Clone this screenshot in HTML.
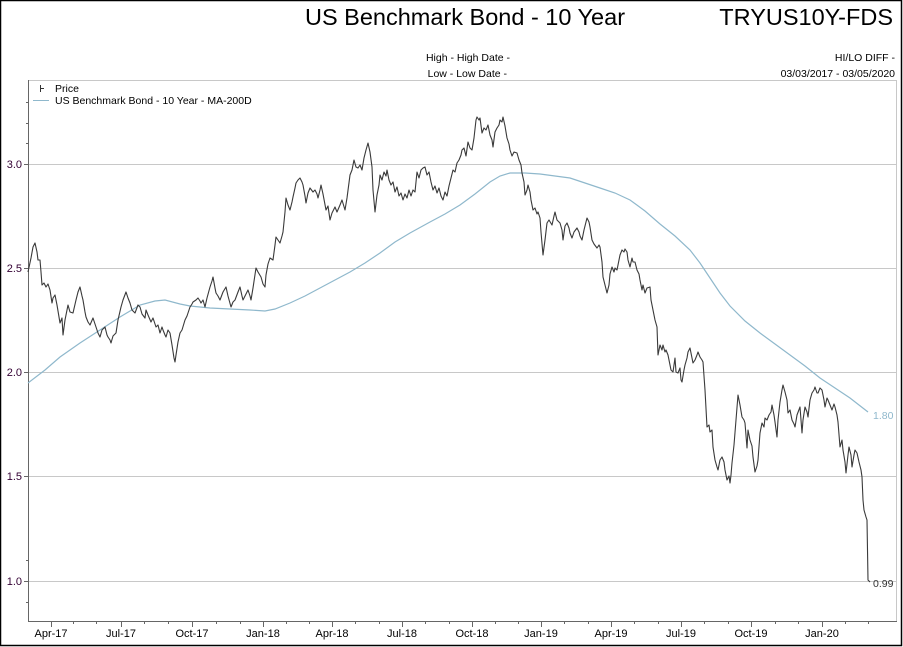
<!DOCTYPE html>
<html><head><meta charset="utf-8"><style>
html,body{margin:0;padding:0;background:#fff}
svg{display:block;font-family:"Liberation Sans",sans-serif}
</style></head><body>
<svg width="903" height="647" viewBox="0 0 903 647" xmlns="http://www.w3.org/2000/svg">
<rect x="0.5" y="0.5" width="901" height="645" fill="#fff" stroke="#000" stroke-width="1.5"/>
<text x="465" y="25" font-size="23.5" text-anchor="middle" fill="#000">US Benchmark Bond - 10 Year</text>
<text x="893" y="25" font-size="23.5" text-anchor="end" fill="#000">TRYUS10Y-FDS</text>
<text x="510" y="61" font-size="10.5" text-anchor="end" fill="#000">High - High Date -</text>
<text x="507" y="77" font-size="10.5" text-anchor="end" fill="#000">Low - Low Date -</text>
<text x="895" y="61" font-size="10.5" text-anchor="end" fill="#000">HI/LO DIFF -</text>
<text x="895" y="77" font-size="10.5" text-anchor="end" fill="#000">03/03/2017 - 03/05/2020</text>
<line x1="28" y1="80.5" x2="897" y2="80.5" stroke="#c8c8c8"/>
<line x1="896.5" y1="80" x2="896.5" y2="621" stroke="#c8c8c8"/>
<g stroke="#c8c8c8">
<line x1="28" y1="164.5" x2="897" y2="164.5"/>
<line x1="28" y1="268.5" x2="897" y2="268.5"/>
<line x1="28" y1="372.5" x2="897" y2="372.5"/>
<line x1="28" y1="476.5" x2="897" y2="476.5"/>
<line x1="28" y1="581.5" x2="897" y2="581.5"/>
</g>
<line x1="28.5" y1="80" x2="28.5" y2="622" stroke="#666"/>
<line x1="28" y1="621.5" x2="897" y2="621.5" stroke="#666"/>
<g stroke="#666">
<line x1="24" y1="164.5" x2="28" y2="164.5"/><line x1="24" y1="268.5" x2="28" y2="268.5"/><line x1="24" y1="372.5" x2="28" y2="372.5"/><line x1="24" y1="476.5" x2="28" y2="476.5"/><line x1="24" y1="581.5" x2="28" y2="581.5"/>
<line x1="26" y1="102.5" x2="28" y2="102.5"/><line x1="26" y1="123.5" x2="28" y2="123.5"/><line x1="26" y1="143.5" x2="28" y2="143.5"/>
<line x1="26" y1="560.5" x2="28" y2="560.5"/><line x1="26" y1="602.5" x2="28" y2="602.5"/>
</g>
<g stroke="#666">
<line x1="51.5" y1="621" x2="51.5" y2="627"/><line x1="121.5" y1="621" x2="121.5" y2="627"/><line x1="192.5" y1="621" x2="192.5" y2="627"/><line x1="263.5" y1="621" x2="263.5" y2="627"/><line x1="332.5" y1="621" x2="332.5" y2="627"/><line x1="402.5" y1="621" x2="402.5" y2="627"/><line x1="472.5" y1="621" x2="472.5" y2="627"/><line x1="541.5" y1="621" x2="541.5" y2="627"/><line x1="611.5" y1="621" x2="611.5" y2="627"/><line x1="681.5" y1="621" x2="681.5" y2="627"/><line x1="751.5" y1="621" x2="751.5" y2="627"/><line x1="822.5" y1="621" x2="822.5" y2="627"/>
<line x1="73.5" y1="621" x2="73.5" y2="624"/><line x1="96.5" y1="621" x2="96.5" y2="624"/><line x1="144.5" y1="621" x2="144.5" y2="624"/><line x1="168.5" y1="621" x2="168.5" y2="624"/><line x1="216.5" y1="621" x2="216.5" y2="624"/><line x1="240.5" y1="621" x2="240.5" y2="624"/><line x1="286.5" y1="621" x2="286.5" y2="624"/><line x1="309.5" y1="621" x2="309.5" y2="624"/><line x1="355.5" y1="621" x2="355.5" y2="624"/><line x1="379.5" y1="621" x2="379.5" y2="624"/><line x1="425.5" y1="621" x2="425.5" y2="624"/><line x1="449.5" y1="621" x2="449.5" y2="624"/><line x1="495.5" y1="621" x2="495.5" y2="624"/><line x1="518.5" y1="621" x2="518.5" y2="624"/><line x1="564.5" y1="621" x2="564.5" y2="624"/><line x1="588.5" y1="621" x2="588.5" y2="624"/><line x1="634.5" y1="621" x2="634.5" y2="624"/><line x1="658.5" y1="621" x2="658.5" y2="624"/><line x1="704.5" y1="621" x2="704.5" y2="624"/><line x1="728.5" y1="621" x2="728.5" y2="624"/><line x1="775.5" y1="621" x2="775.5" y2="624"/><line x1="798.5" y1="621" x2="798.5" y2="624"/><line x1="845.5" y1="621" x2="845.5" y2="624"/><line x1="868.5" y1="621" x2="868.5" y2="624"/>
</g>
<g font-size="11" fill="#330033" text-anchor="end">
<text x="22" y="168">3.0</text><text x="22" y="272">2.5</text><text x="22" y="376">2.0</text><text x="22" y="480">1.5</text><text x="22" y="585">1.0</text>
</g>
<g font-size="11" fill="#000" text-anchor="middle">
<text x="51" y="637">Apr-17</text><text x="121" y="637">Jul-17</text><text x="192" y="637">Oct-17</text><text x="263" y="637">Jan-18</text><text x="332" y="637">Apr-18</text><text x="402" y="637">Jul-18</text><text x="472" y="637">Oct-18</text><text x="541" y="637">Jan-19</text><text x="611" y="637">Apr-19</text><text x="681" y="637">Jul-19</text><text x="751" y="637">Oct-19</text><text x="822" y="637">Jan-20</text>
</g>
<line x1="40.5" y1="85" x2="40.5" y2="92" stroke="#333"/><line x1="40" y1="88.5" x2="44" y2="88.5" stroke="#333"/>
<text x="55" y="92" font-size="10.5" fill="#000">Price</text>
<line x1="33" y1="100.5" x2="49" y2="100.5" stroke="#8fb8cc"/>
<text x="55" y="104" font-size="10.5" fill="#000">US Benchmark Bond - 10 Year - MA-200D</text>
<polyline fill="none" stroke="#8fb8cc" stroke-width="1.2" points="28,383 45,370 60,357 80,343 100,330 120,317 140,305 155,301 165,300 180,304 190,306 210,308 230,309 250,310 265,311 275,309 290,303 305,296 320,288 335,280 350,272 365,263 380,253 395,242 410,233 430,222 445,214 460,205 475,194 490,182 500,176 510,173 525,173 540,174 555,176 570,178 585,183 600,188 615,193 630,200 645,211 660,224 675,236 690,250 700,263 710,278 720,293 730,306 745,321 760,333 775,344 790,355 805,366 820,378 835,388 850,398 868,412"/>
<polyline fill="none" stroke="#3a3a3a" stroke-width="1.1" stroke-linejoin="round" points="28,272 31,258 33,247 35,243 37,252 38,260 40,260 41,272 42,285 44,283 46,287 48,284 50,290 52,303 53,298 55,295 57,305 60,323 62,318 63,335 65,320 68,305 70,312 73,313 76,300 78,292 80,287 82,296 83,300 85,312 86,317 88,322 90,325 93,318 96,327 98,333 100,337 102,330 105,327 107,335 108,337 110,340 111,343 113,336 116,333 118,320 121,307 123,300 126,292 128,298 130,303 132,310 135,313 138,305 140,307 142,314 145,318 146,310 148,315 151,322 153,318 156,327 158,325 160,333 162,327 163,330 165,335 166,337 168,330 170,333 172,345 174,358 175,362 176,355 178,342 180,333 182,330 185,320 187,316 190,307 192,304 193,302 196,300 198,298 200,301 201,303 203,300 205,307 207,298 210,287 212,281 213,277 215,288 216,293 218,296 220,300 223,292 226,287 228,296 231,307 233,302 235,300 238,292 240,287 242,296 243,300 246,294 248,290 250,296 251,300 253,288 256,268 258,272 261,277 263,284 265,287 266,275 268,264 270,258 273,260 275,245 276,237 278,240 280,243 282,236 283,232 285,212 286,198 288,205 290,210 292,202 293,197 295,188 296,183 298,180 300,178 302,182 303,185 305,196 306,203 308,193 310,188 313,192 315,190 317,194 318,198 320,190 321,185 323,194 326,210 328,206 330,220 332,213 335,207 337,212 340,205 342,200 345,210 347,198 350,175 352,170 354,160 356,167 358,168 360,165 362,170 364,158 366,150 368,143 370,152 372,167 373,190 375,212 377,195 379,185 380,175 382,180 384,172 386,176 387,170 389,180 391,185 393,182 395,192 397,187 399,196 401,193 403,200 405,194 407,198 409,190 411,196 413,190 415,192 417,172 419,178 421,170 423,168 425,167 427,175 429,172 431,182 433,190 435,186 437,193 439,188 441,196 443,200 445,192 447,196 449,186 451,178 453,170 455,172 457,163 459,160 461,155 462,150 464,148 466,156 468,142 470,148 472,150 474,138 476,120 477,117 479,120 480,118 482,133 484,128 486,130 488,125 490,135 492,140 493,147 495,132 497,128 499,125 500,120 502,122 503,117 505,126 507,138 509,144 510,150 512,156 514,152 517,153 519,160 521,165 522,173 524,182 525,195 527,190 528,185 530,192 531,200 533,210 535,208 537,214 538,212 540,218 541,232 543,255 545,240 547,223 549,220 552,225 554,216 555,212 557,220 560,223 562,230 563,240 565,226 567,223 569,228 570,233 572,238 574,232 577,228 579,232 580,236 582,240 584,230 587,218 589,222 590,227 592,240 594,244 597,248 599,245 600,247 602,262 603,277 605,285 607,293 609,285 610,274 612,267 614,272 615,268 617,270 619,260 620,255 622,250 624,252 625,249 627,252 628,260 630,267 632,258 633,262 635,262 637,270 639,274 640,280 642,290 643,285 645,293 647,288 650,287 651,300 653,310 655,320 657,327 658,355 660,345 662,350 663,345 665,352 666,350 668,355 670,365 671,370 673,372 675,358 676,372 678,373 680,368 681,380 682,382 684,370 685,365 687,358 688,352 690,348 692,358 693,363 695,360 697,355 698,352 700,357 702,360 703,362 705,390 707,427 709,425 710,432 712,430 713,447 715,460 717,467 718,470 720,460 722,457 724,462 725,470 727,480 729,476 730,483 731,475 732,463 734,445 736,420 738,395 740,405 742,417 744,420 745,423 747,448 748,430 750,440 752,446 753,457 755,472 757,466 758,460 760,433 762,423 764,427 765,418 767,420 769,415 771,412 772,405 774,415 775,422 777,437 778,420 780,402 782,390 783,385 785,392 787,400 788,413 790,410 792,420 794,424 795,427 797,415 800,407 802,433 803,420 805,407 807,412 808,417 810,400 812,393 814,390 815,387 817,393 818,393 820,388 822,390 824,400 825,407 827,398 828,400 830,405 832,410 834,404 835,407 837,415 838,422 840,447 842,440 843,450 845,462 846,473 848,455 849,447 851,455 852,467 854,455 855,450 857,453 859,462 861,470 862,477 863,500 864,510 866,517 867,520 868,580 870,582"/>
<text x="873" y="419" font-size="10.5" fill="#8fb8cc">1.80</text>
<text x="873" y="587" font-size="10.5" fill="#333">0.99</text>
</svg>
</body></html>
